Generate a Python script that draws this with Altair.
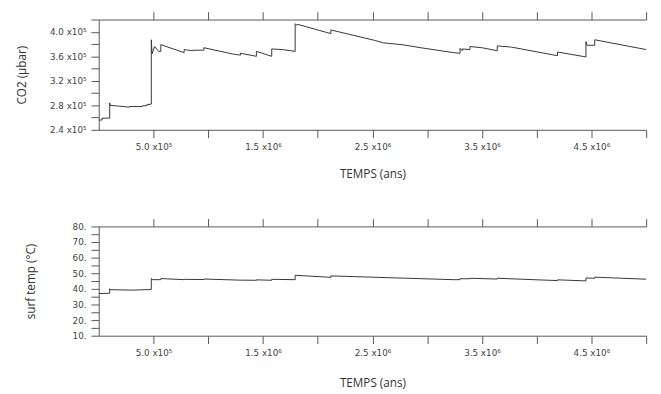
import altair as alt
import pandas as pd

# ---- data ----
co2_years = [0, 30000, 30000, 100000, 100000, 105000, 280000, 280000, 398000, 398000,
             440000, 440000, 480000, 480000, 487000, 510000, 547000, 567000, 567000,
             780000, 780000, 860000, 860000, 960000, 960000, 1230000, 1295000, 1295000,
             1440000, 1440000, 1580000, 1580000, 1680000, 1794000, 1794000, 1810000,
             1820000, 2120000, 2120000, 2520000, 2600000, 2770000, 2940000, 3240000,
             3300000, 3300000, 3320000, 3320000, 3390000, 3390000, 3500000, 3640000,
             3640000, 3770000, 4190000, 4190000, 4450000, 4450000, 4460000, 4530000,
             4530000, 5000000]
co2_values = [256000, 256000, 259000, 259000, 284000, 280000, 277000, 278000, 278000, 279000,
              279500, 281000, 282000, 387000, 364000, 376000, 368000, 368000, 379000,
              366000, 371000, 369000, 370000, 370000, 374000, 363500, 362000, 365000,
              360000, 368000, 360000, 372000, 371000, 368000, 413000, 411000,
              412000, 397000, 403000, 386000, 382000, 379000, 374000, 366000,
              365000, 373000, 369000, 372000, 371000, 376000, 374000, 369000,
              377000, 375000, 361000, 367000, 359000, 384000, 378000, 378000,
              387000, 371000]

temp_years = [0, 100000, 100000, 105000, 300000, 480000, 480000, 495000, 567000, 567000,
              780000, 780000, 960000, 960000, 1290000, 1440000, 1440000, 1580000, 1580000,
              1794000, 1794000, 2120000, 2120000, 3240000, 3300000, 3300000, 3390000,
              3390000, 3640000, 3640000, 4190000, 4190000, 4450000, 4450000, 4530000,
              4530000, 5000000]
temp_values = [37.0, 37.2, 40.1, 39.5, 39.2, 39.6, 46.6, 45.9, 45.9, 46.6,
               45.9, 46.1, 46.0, 46.3, 45.6, 45.5, 45.8, 45.5, 46.1,
               45.9, 48.7, 47.4, 48.3, 45.9, 45.9, 46.5, 46.5,
               46.8, 46.3, 46.8, 45.3, 45.8, 45.1, 47.0, 46.8,
               47.5, 46.2]

x_ticks = [500000, 1000000, 1500000, 2000000, 2500000, 3000000, 3500000, 4000000, 4500000, 5000000]
x_labels = ["5.0 x10\u2075", "", "1.5 x10\u2076", "", "2.5 x10\u2076", "", "3.5 x10\u2076", "",
            "4.5 x10\u2076", ""]

co2_ticks = [240000, 260000, 280000, 300000, 320000, 340000, 360000, 380000, 400000, 420000]
co2_labels = ["2.4 x10\u2075", "", "2.8 x10\u2075", "", "3.2 x10\u2075", "", "3.6 x10\u2075", "",
              "4.0 x10\u2075", ""]

temp_ticks = [10, 15, 20, 25, 30, 35, 40, 45, 50, 55, 60, 65, 70, 75, 80]
temp_labels = ["10.", "", "20.", "", "30.", "", "40.", "", "50.", "", "60.", "", "70.", "", "80."]


def label_expr(values, labels):
    expr = "''"
    for v, l in zip(values, labels):
        if l:
            expr = f"datum.value == {v} ? '{l}' : (" + expr + ")"
    return expr


AXIS_COLOR = "#555555"
LINE_COLOR = "#333333"
LABEL_FONT = "DejaVu Sans"
TITLE_FONT = "Open Sans"
W = 561

common_axis = dict(domainColor=AXIS_COLOR, tickColor=AXIS_COLOR, labelColor="#444444",
                   labelFont=LABEL_FONT, labelFontSize=9, titleFont=TITLE_FONT,
                   titleFontSize=12, titleFontWeight="normal", titleColor="#333333",
                   grid=False, domainWidth=1, tickWidth=1)


def panel(df, field, ydomain, yticks, ylabels, ytitle, ytitle_x, height, xtitle_y):
    xscale = alt.Scale(domain=[0, 5000000], nice=False, zero=False)
    yscale = alt.Scale(domain=ydomain, nice=False, zero=False)
    bottom_axis = alt.Axis(values=x_ticks, labelExpr=label_expr(x_ticks, x_labels),
                           tickSize=8, labelPadding=5, title="TEMPS (ans)",
                           titleX=W / 2, titleY=xtitle_y, titleBaseline="middle",
                           titleAlign="center", labelFlush=False, **common_axis)
    top_axis = alt.Axis(orient="top", values=x_ticks, labels=False, tickSize=8,
                        title=None, **common_axis)
    left_axis = alt.Axis(values=yticks, labelExpr=label_expr(yticks, ylabels), tickSize=8,
                         labelPadding=5, title=ytitle, titleX=ytitle_x, titleY=height / 2,
                         titleAngle=270, titleBaseline="middle", titleAlign="center",
                         labelFlush=False, **common_axis)
    line = alt.Chart(df).mark_line(color=LINE_COLOR, strokeWidth=1).encode(
        x=alt.X("year:Q", scale=xscale, axis=bottom_axis),
        y=alt.Y(f"{field}:Q", scale=yscale, axis=left_axis),
        order="i:Q",
    )
    ghost = alt.Chart(df).mark_line(strokeOpacity=0).encode(
        x=alt.X("year:Q", scale=xscale, axis=top_axis),
        y=alt.Y(f"{field}:Q", scale=yscale, axis=left_axis),
        order="i:Q",
    )
    return alt.layer(line, ghost).resolve_axis(x="independent").properties(width=W, height=height)


co2_df = pd.DataFrame({"year": co2_years, "co2": co2_values, "i": range(len(co2_years))})
temp_df = pd.DataFrame({"year": temp_years, "temp": temp_values, "i": range(len(temp_years))})

top = panel(co2_df, "co2", [240000, 420000], co2_ticks, co2_labels, "CO2 (\u00b5bar)", -79, 113, 45)
bottom = panel(temp_df, "temp", [10, 80], temp_ticks, temp_labels, "surf temp (\u00b0C)", -69.5, 112, 48)

chart = alt.vconcat(top, bottom, spacing=39).configure_view(stroke=None).properties(
    padding={"left": 8, "top": -2, "right": 5, "bottom": 5}
)

chart.save("out.html", embed_options={"renderer": "svg", "actions": False})
